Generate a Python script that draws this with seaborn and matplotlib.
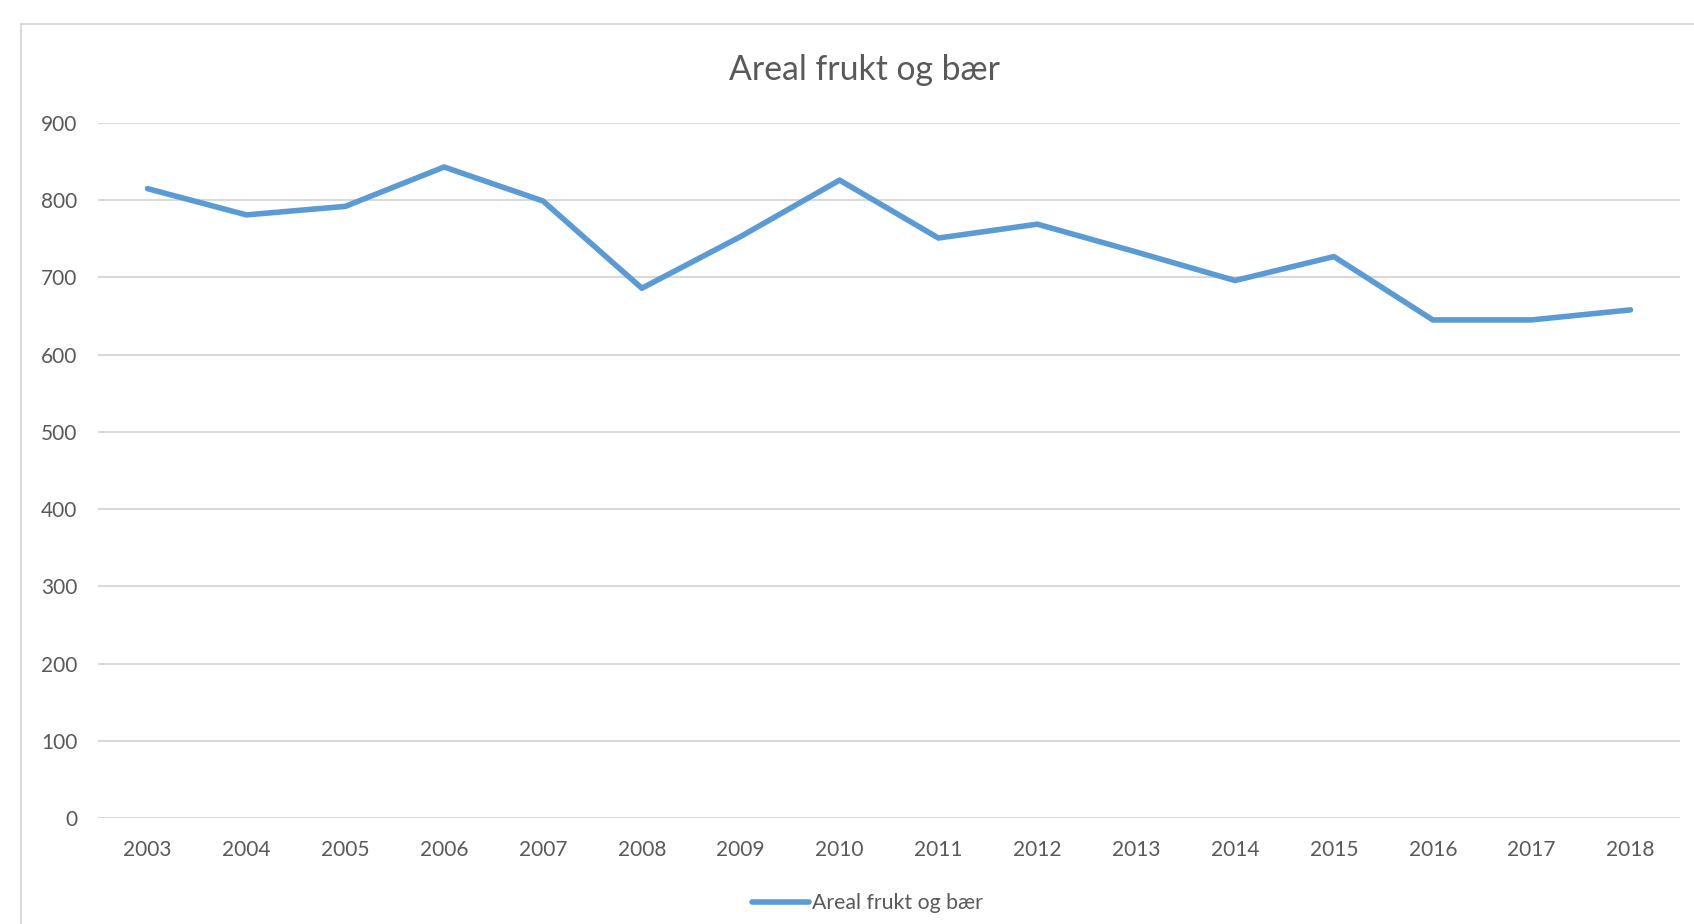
import matplotlib
matplotlib.use("Agg")
import matplotlib.pyplot as plt
import seaborn as sns
import pandas as pd
from matplotlib.patches import Rectangle

years = ["2003", "2004", "2005", "2006", "2007", "2008", "2009", "2010",
         "2011", "2012", "2013", "2014", "2015", "2016", "2017", "2018"]
areal = [815, 781, 792, 843, 799, 686, 753, 826,
         751, 769, 733, 696, 727, 645, 645, 658]
series_name = "Areal frukt og bær"
y_ticks = list(range(0, 1000, 100))

df = pd.DataFrame({"year": years, "value": areal})

sns.set_style("white")
plt.rcParams["font.family"] = ["Lato", "DejaVu Sans"]

text_gray = "#595959"
grid_gray = "#D9D9D9"
line_blue = "#5B9BD5"

fig = plt.figure(figsize=(16.94, 9.24), dpi=100)
ax = fig.add_axes([0.0579, 0.1147, 0.9338, 0.7522])

sns.lineplot(data=df, x="year", y="value", ax=ax, color=line_blue,
             linewidth=4, label=series_name, sort=False)
ax.lines[0].set_solid_capstyle("round")

ax.set_ylim(0, 900)
ax.set_yticks(y_ticks)
ax.set_xlim(-0.5, len(years) - 0.5)
ax.yaxis.grid(True, color=grid_gray, linewidth=1.5)
ax.set_axisbelow(True)
for s in ax.spines.values():
    s.set_visible(False)
ax.tick_params(axis="both", length=0, labelsize=15, colors=text_gray)
ax.tick_params(axis="y", pad=15)
ax.tick_params(axis="x", pad=15.5)
ax.set_xlabel("")
ax.set_ylabel("")

ax.get_legend().remove()
handles, labels = ax.get_legend_handles_labels()
fig.legend(handles, labels, loc="center", bbox_to_anchor=(0.512, 0.0225),
           frameon=False, fontsize=15.3, handlelength=2.7, handletextpad=0.15,
           labelcolor=text_gray)

fig.text(0.5105, 0.924, series_name, ha="center", va="center",
         fontsize=24.3, color=text_gray)

fig.patches.append(Rectangle((21 / 1694, -0.1), 1.2, 1.1 - 24 / 924,
                             transform=fig.transFigure, fill=False,
                             edgecolor="#D9D9D9", linewidth=1.5))

fig.savefig("out.png", dpi=100)
